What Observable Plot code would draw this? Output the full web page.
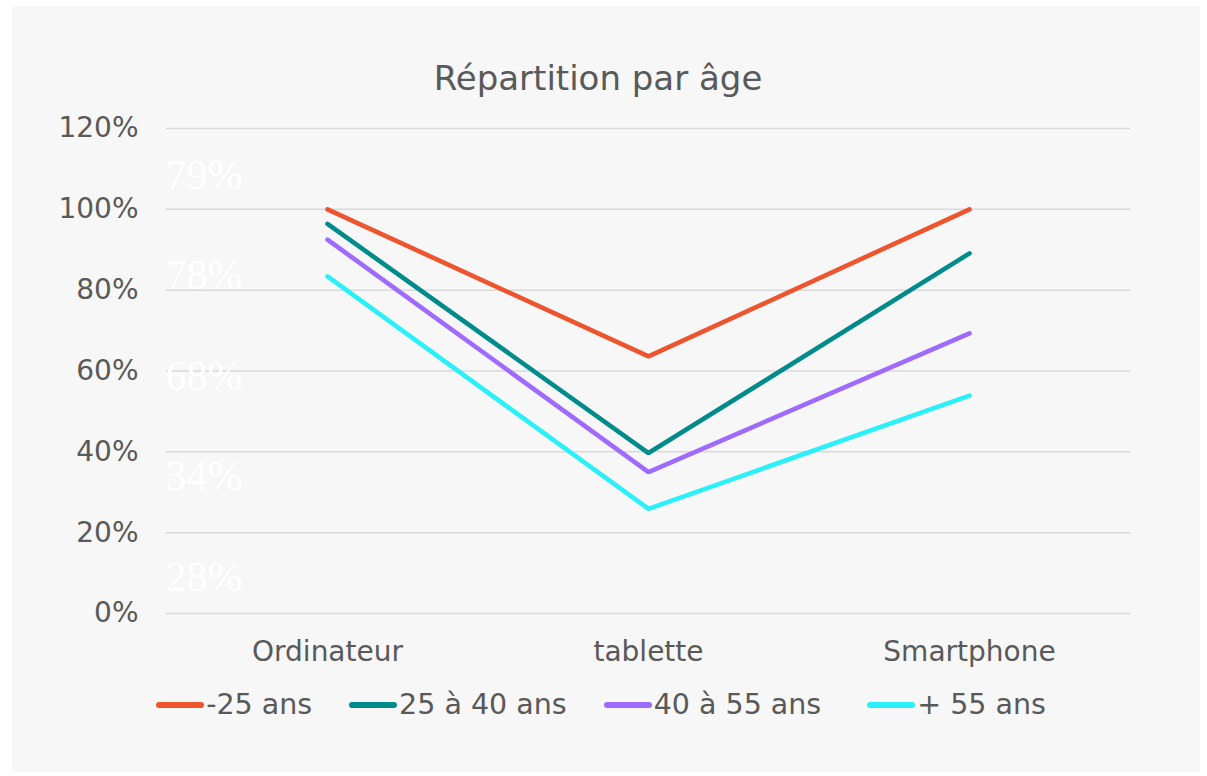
<!DOCTYPE html>
<html>
<head>
<meta charset="utf-8">
<script src="https://cdn.jsdelivr.net/npm/d3@7"></script>
<script src="https://cdn.jsdelivr.net/npm/@observablehq/plot@0.6"></script>
<style>
  html, body { margin: 0; padding: 0; background: #ffffff; }
  body { width: 1207px; height: 776px; position: relative; overflow: hidden; font-family: "DejaVu Sans", Verdana, sans-serif; }
  #panel { position: absolute; left: 12px; top: 6px; width: 1188px; height: 766px; background: #f7f7f7; }
  #title { position: absolute; left: 0; width: 1172px; top: 52px; text-align: center; font-size: 34px; color: #595959; line-height: 40px; }
  #chart { position: absolute; left: 0; top: 100px; }
  #legend { position: absolute; left: 0; width: 1178px; top: 682px; display: flex; justify-content: center; align-items: center; gap: 37px; font-size: 28.5px; color: #595959; line-height: 34px; }
  .item { display: flex; align-items: center; }
  .item:last-child { margin-left: 9px; }
  .sw { width: 48px; height: 5.5px; border-radius: 3px; margin-right: 2px; }
</style>
</head>
<body>
<div id="panel">
  <div id="title"></div>
  <div id="chart"></div>
  <div id="legend"></div>
</div>
<script>
const title = "Répartition par âge";
const categories = ["Ordinateur", "tablette", "Smartphone"];
const series = ["-25 ans", "25 à 40 ans", "40 à 55 ans", "+ 55 ans"];
const colors = ["#EE542E", "#008B8B", "#9E6AFF", "#2AF0FA"];
const valuesMoins25 = [100, 63.6, 100];
const values25a40 = [96.4, 39.7, 89.1];
const values40a55 = [92.5, 35.0, 69.3];
const valuesPlus55 = [83.4, 25.9, 53.9];
const yTicks = [0, 20, 40, 60, 80, 100, 120];
const ghostLabels = ["79%", "78%", "68%", "34%", "28%"];

const allValues = [valuesMoins25, values25a40, values40a55, valuesPlus55];
const data = [];
series.forEach((s, i) => categories.forEach((c, j) => data.push({serie: s, cat: c, value: allValues[i][j]})));

document.getElementById("title").textContent = title;

const serifFont = "'Liberation Serif', 'DejaVu Serif', 'Times New Roman', serif";

const chart = Plot.plot({
  width: 1188,
  height: 567,
  marginLeft: 154,
  marginRight: 70,
  marginTop: 22,
  marginBottom: 60,
  style: {fontFamily: "DejaVu Sans, Verdana, sans-serif", fontSize: "28px", background: "transparent", color: "#595959"},
  x: {type: "point", domain: categories, padding: 0.5, label: null},
  y: {domain: [0, 120], ticks: yTicks, label: null},
  color: {domain: series, range: colors},
  marks: [
    Plot.gridY(yTicks, {stroke: "#d9d9d9", strokeOpacity: 1, strokeWidth: 1.5}),
    Plot.text([ghostLabels.join("\n")], {
      frameAnchor: "top-left", textAnchor: "start", lineAnchor: "top",
      dx: -1, dy: -11, lineHeight: 2.393,
      fill: "#ffffff", fontSize: 42, fontFamily: serifFont,
      ariaLabel: "ghost"
    }),
    Plot.axisY({ticks: yTicks, tickSize: 0, tickPadding: 28, tickFormat: d => d + "%", fill: "#595959"}),
    Plot.axisX({tickSize: 0, tickPadding: 28, fill: "#595959"}),
    Plot.line(data, {x: "cat", y: "value", z: "serie", stroke: "serie", strokeWidth: 4.6, strokeLinecap: "round", strokeLinejoin: "miter"})
  ]
});
d3.select(chart).selectAll('g[aria-label="ghost"], g[aria-label="ghost"] text, g[aria-label="ghost"] tspan')
  .style("font-family", serifFont);
document.getElementById("chart").appendChild(chart);

const legend = document.getElementById("legend");
series.forEach((s, i) => {
  const it = document.createElement("div");
  it.className = "item";
  const sw = document.createElement("div");
  sw.className = "sw";
  sw.style.background = colors[i];
  const t = document.createElement("span");
  t.textContent = s;
  it.appendChild(sw);
  it.appendChild(t);
  legend.appendChild(it);
});
</script>
</body>
</html>
